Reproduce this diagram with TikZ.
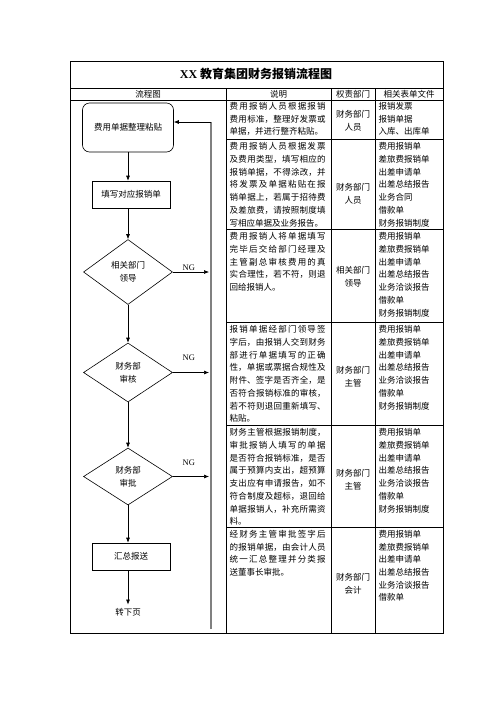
\documentclass[tikz,border=0pt]{standalone}
\usepackage{fontspec}
\setmainfont{Noto Sans CJK SC}
\newfontfamily\latinfont{Liberation Serif}
\usetikzlibrary{shapes.geometric,arrows.meta}
\XeTeXlinebreaklocale "zh"
\XeTeXlinebreakskip=0pt plus 2pt
\begin{document}
\begin{tikzpicture}
    [%%%%%%%%%%%%%%%%%%%%%%%%%%%%%%
        x=1pt,y=-1pt,
        font=\fontsize{8.5}{12.7}\selectfont,
        rule/.style={line width=0.6pt},
        frame/.style={line width=1pt},
        box/.style={rectangle,draw=black,line width=0.6pt,minimum width=78pt,minimum height=27pt,inner sep=0pt},
        roundbox/.style={box,rounded corners=7pt,minimum width=91pt,minimum height=49pt},
        choice/.style={diamond,draw=black,line width=0.6pt,inner sep=0pt,align=center,minimum width=89pt},
        arrow/.style={-{Latex[length=5pt,width=4pt]},line width=0.6pt},
        backline/.style={draw=gray,line width=1.2pt},
        ng/.style={font=\latinfont\fontsize{8.5}{10}\selectfont,inner sep=1pt},
        desc/.style={anchor=north west,text width=96pt,align=justify,inner sep=0pt},
        dept/.style={align=center,inner sep=0pt},
        files/.style={anchor=north west,align=left,inner sep=0pt},
        head/.style={inner sep=0pt},
    ]%%%%%%%%%%%%%%%%%%%%%%%%%%%%%%
    \useasboundingbox (0,0) rectangle (496,702);

    % table
    \draw[frame] (70,61) rectangle (443,633);
    \draw[rule] (70,88) -- (443,88);
    \draw[rule] (70,100) -- (443,100);
    \foreach \x in {226,331,375} \draw[rule] (\x,88) -- (\x,633);
    \foreach \y in {139,229,322,425,527} \draw[rule] (226,\y) -- (443,\y);

    \node[font=\bfseries\fontsize{12}{14}\selectfont] (title) at (256,74) {{\latinfont XX} 教育集团财务报销流程图};
    \node[head] (h1) at (148,94) {流程图};
    \node[head] (h2) at (278.5,94) {说明};
    \node[head] (h3) at (353,94) {权责部门};
    \node[head] (h4) at (409,94) {相关表单文件};

    % flow chart
    \node[roundbox] (zhengli) at (128,127.5) {费用单据整理粘贴};
    \node[box] (tianxie) at (131,194.5) {填写对应报销单};
    \node[choice,minimum height=65pt] (lingdao) at (128,272) {相关部门\\领导};
    \node[choice,minimum height=59pt] (shenhe) at (128,372.5) {财务部\\审核};
    \node[choice,minimum height=57pt] (shenpi) at (128,476.5) {财务部\\审批};
    \node[box] (huizong) at (131,556.5) {汇总报送};
    \node (zhuanxia) at (128,612) {转下页};

    \coordinate (backtop) at (211,122);
    \coordinate (backend) at (211,629);

    \draw[arrow] (zhengli.south) -- (zhengli.south |- tianxie.north);
    \draw[arrow] (zhengli.south |- tianxie.south) -- (lingdao.north);
    \draw[arrow] (lingdao.south) -- (shenhe.north);
    \draw[arrow] (shenhe.south) -- (shenpi.north);
    \draw[arrow] (shenpi.south) -- (shenpi.south |- huizong.north);
    \draw[arrow] (zhuanxia.north |- huizong.south) -- (zhuanxia.north);

    \draw[backline] (backend) -- (backtop);
    \draw[arrow] (backtop) -- (zhengli.east |- backtop);
    \draw[arrow,shorten >=2pt] (lingdao.east) -- (lingdao.east -| backtop) node[ng,pos=0.42,above] {NG};
    \draw[arrow,shorten >=2pt] (shenhe.east) -- (shenhe.east -| backtop) node[ng,pos=0.42,above=11pt] {NG};
    \draw[arrow,shorten >=2pt] (shenpi.east) -- (shenpi.east -| backtop) node[ng,pos=0.42,above=10pt] {NG};

    % description
    \node[desc] (shuoming1) at (229.5,102) {费用报销人员根据报销\linebreak 费用标准，整理好发票或\linebreak 单据，并进行整齐粘贴。};
    \node[desc] (shuoming2) at (229.5,142.5) {费用报销人员根据发票\linebreak 及费用类型，填写相应的\linebreak 报销单据，不得涂改，并\linebreak 将发票及单据粘贴在报\linebreak 销单据上，若属于招待费\linebreak 及差旅费，请按照制度填\linebreak 写相应单据及业务报告。};
    \node[desc] (shuoming3) at (229.5,232.5) {费用报销人将单据填写\linebreak 完毕后交给部门经理及\linebreak 主管副总审核费用的真\linebreak 实合理性，若不符，则退\linebreak 回给报销人。};
    \node[desc] (shuoming4) at (229.5,325.5) {报销单据经部门领导签\linebreak 字后，由报销人交到财务\linebreak 部进行单据填写的正确\linebreak 性，单据或票据合规性及\linebreak 附件、签字是否齐全，是\linebreak 否符合报销标准的审核，\linebreak 若不符则退回重新填写、\linebreak 粘贴。};
    \node[desc] (shuoming5) at (229.5,428.5) {财务主管根据报销制度，\linebreak 审批报销人填写的单据\linebreak 是否符合报销标准，是否\linebreak 属于预算内支出，超预算\linebreak 支出应有申请报告，如不\linebreak 符合制度及超标，退回给\linebreak 单据报销人，补充所需资\linebreak 料。};
    \node[desc] (shuoming6) at (229.5,530) {经财务主管审批签字后\linebreak 的报销单据，由会计人员\linebreak 统一汇总整理并分类报\linebreak 送董事长审批。};

    % departments
    \node[dept] (quanze1) at (353,120.5) {财务部门\\人员};
    \node[dept] (quanze2) at (353,194) {财务部门\\人员};
    \node[dept] (quanze3) at (353,277) {相关部门\\领导};
    \node[dept] (quanze4) at (353,376.5) {财务部门\\主管};
    \node[dept] (quanze5) at (353,479.5) {财务部门\\主管};
    \node[dept] (quanze6) at (353,583.5) {财务部门\\会计};

    % forms
    \node[files] (biaodan1) at (378.5,102) {报销发票\\报销单据\\入库、出库单};
    \node[files] (biaodan2) at (378.5,142.5) {费用报销单\\差旅费报销单\\出差申请单\\出差总结报告\\业务合同\\借款单\\财务报销制度};
    \node[files] (biaodan3) at (378.5,232.5) {费用报销单\\差旅费报销单\\出差申请单\\出差总结报告\\业务洽谈报告\\借款单\\财务报销制度};
    \node[files] (biaodan4) at (378.5,325.5) {费用报销单\\差旅费报销单\\出差申请单\\出差总结报告\\业务洽谈报告\\借款单\\财务报销制度};
    \node[files] (biaodan5) at (378.5,428.5) {费用报销单\\差旅费报销单\\出差申请单\\出差总结报告\\业务洽谈报告\\借款单\\财务报销制度};
    \node[files] (biaodan6) at (378.5,530) {费用报销单\\差旅费报销单\\出差申请单\\出差总结报告\\业务洽谈报告\\借款单};
\end{tikzpicture}
\end{document}
